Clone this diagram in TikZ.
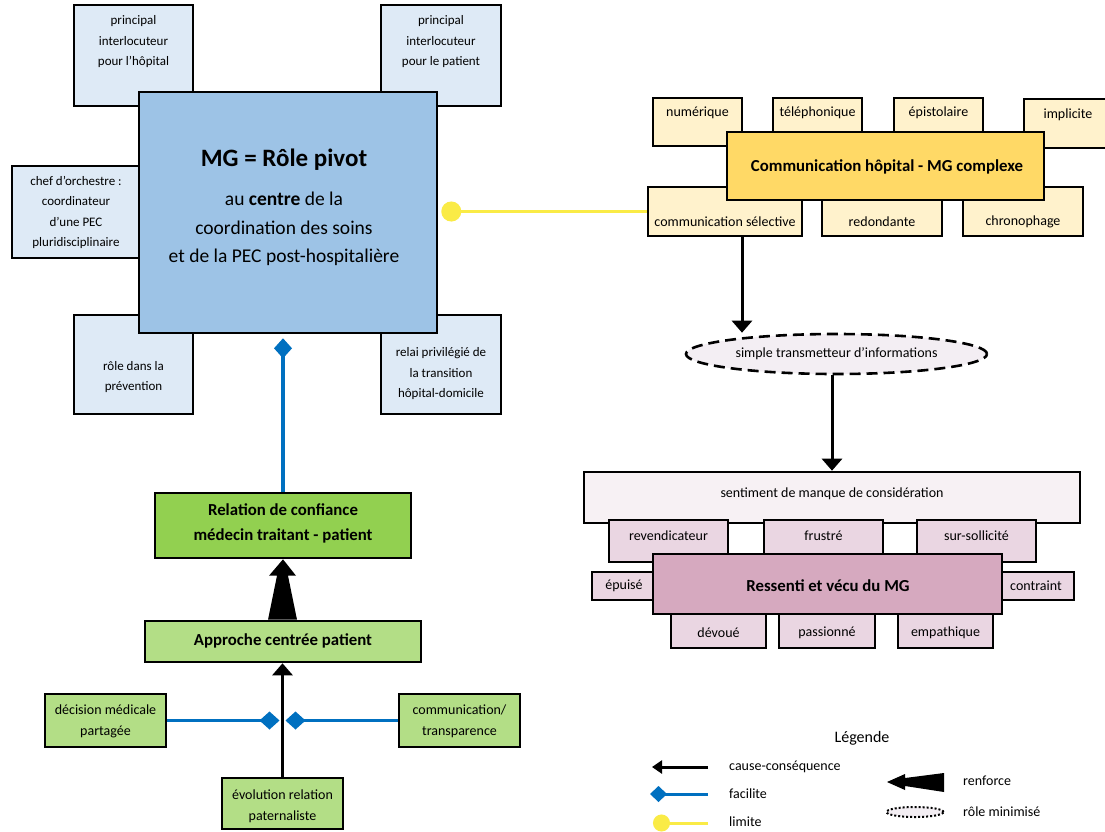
\documentclass[tikz,border=0pt]{standalone}
\usepackage{fontspec}
\setmainfont{Carlito}
\usetikzlibrary{arrows.meta,shapes.geometric,calc}

\definecolor{roleLight}{RGB}{222,234,246}
\definecolor{roleMain}{RGB}{157,195,230}
\definecolor{comLight}{RGB}{255,242,204}
\definecolor{comMain}{RGB}{255,217,102}
\definecolor{feelLight}{RGB}{234,214,226}
\definecolor{feelMain}{RGB}{214,169,191}
\definecolor{feelPale}{RGB}{247,241,244}
\definecolor{trustMain}{RGB}{146,208,80}
\definecolor{trustLight}{RGB}{179,222,134}
\definecolor{faciliteBlue}{RGB}{0,112,192}
\definecolor{limiteYellow}{RGB}{250,235,70}
\definecolor{ellFill}{RGB}{243,238,243}

% rectangle node from its corners: name, x1, y1, x2, y2, style
\newcommand{\rbox}[6]{%
  \node[frame,#6,minimum width={#4-#2},minimum height={#5-#3}] (#1)
    at ({(#2+#4)/2},{(#3+#5)/2}) {};}

\tikzset{
  frame/.style={draw=black, line width=2.6pt, rectangle, inner sep=0pt},
  txt/.style={align=center, inner sep=0pt, font=\fontsize{13}{20.5}\selectfont},
  stxt/.style={align=center, inner sep=0pt, font=\fontsize{14}{21}\selectfont},
  lead/.style={align=center, inner sep=0pt, font=\fontsize{16.8}{25}\selectfont\bfseries},
  legtxt/.style={anchor=west, inner sep=0pt, font=\fontsize{14}{16}\selectfont},
  cause/.style={draw=black, line width=3pt, -{Triangle[width=20pt,length=12pt]}},
  facilite/.style={draw=faciliteBlue, line width=3.5pt, -{Diamond[length=20pt,width=18pt]}},
  limite/.style={draw=limiteYellow, line width=3.5pt, -{Circle[length=20pt]}},
}

\begin{document}
\begin{tikzpicture}[x=1pt,y=-1pt]
\useasboundingbox (0,0) rectangle (1105,831);
\fill[white] (0,0) rectangle (1105,831);

% ---- role of the GP ----
\rbox{hopBox}{74}{5}{193}{106}{fill=roleLight}
\rbox{patBox}{381}{5}{501}{106}{fill=roleLight}
\rbox{chefBox}{12}{166}{145}{258}{fill=roleLight}
\rbox{prevBox}{74}{315}{193}{414}{fill=roleLight}
\rbox{relaiBox}{381}{315}{501}{414}{fill=roleLight}
\rbox{mainBox}{139}{92}{437}{333}{fill=roleMain}

\node[txt] (hopT) at (133.5,42) {principal\\interlocuteur\\pour l’hôpital};
\node[txt] (patT) at (441,42) {principal\\interlocuteur\\pour le patient};
\node[txt] (chefT) at (76,212.5) {chef d’orchestre :\\coordinateur\\d’une PEC\\pluridisciplinaire};
\node[txt] (prevT) at (133.5,377) {rôle dans la\\prévention};
\node[txt] (relaiT) at (441,374) {relai privilégié de\\la transition\\hôpital-domicile};
\node[inner sep=0pt, font=\fontsize{25}{28}\selectfont\bfseries] (mainTitle) at (284,160) {MG = Rôle pivot};
\node[align=center, inner sep=0pt, font=\fontsize{19.5}{28.5}\selectfont] (mainT) at (284,229)
  {au \textbf{centre} de la\\coordination des soins\\et de la PEC post-hospitalière};

% ---- hospital / GP communication ----
\rbox{numBox}{653}{98}{742}{146}{fill=comLight}
\rbox{telBox}{773}{98}{862}{140}{fill=comLight}
\rbox{episBox}{894}{98}{983}{140}{fill=comLight}
\rbox{implBox}{1024}{99}{1115}{148}{fill=comLight}
\rbox{cselBox}{648}{187}{802}{236}{fill=comLight}
\rbox{redBox}{822}{187}{942}{236}{fill=comLight}
\rbox{chronoBox}{963}{187}{1083}{236}{fill=comLight}
\rbox{comMain}{727}{132}{1044}{200}{fill=comMain}

\node[stxt] (numT) at (697.5,113) {numérique};
\node[stxt] (telT) at (817.5,113) {téléphonique};
\node[stxt] (episT) at (938.5,113) {épistolaire};
\node[stxt] (implT) at (1068,115) {implicite};
\node[lead] (comT) at (887,167) {Communication hôpital - MG complexe};
\node[stxt] (cselT) at (725,222) {communication sélective};
\node[stxt] (redT) at (882,222) {redondante};
\node[stxt] (chronoT) at (1023,222) {chronophage};

\node[ellipse, draw=black, line width=2.6pt, dash pattern=on 11pt off 6pt, fill=ellFill,
  minimum width=301, minimum height=40, inner sep=0pt,
  font=\fontsize{14}{16}\selectfont] (ell) at (836.5,354) {simple transmetteur d’informations};

% ---- how the GP feels ----
\rbox{sentBox}{584}{472}{1080}{523}{fill=feelPale}
\rbox{revBox}{609}{520}{728}{562}{fill=feelLight}
\rbox{frusBox}{764}{520}{883}{562}{fill=feelLight}
\rbox{surBox}{917}{520}{1036}{562}{fill=feelLight}
\rbox{epuiBox}{592}{572}{660}{600}{fill=feelLight}
\rbox{contBox}{995}{572}{1074}{600}{fill=feelLight}
\rbox{devBox}{671}{605}{766}{648}{fill=feelLight}
\rbox{pasBox}{779}{605}{875}{648}{fill=feelLight}
\rbox{empBox}{898}{605}{993}{648}{fill=feelLight}
\rbox{feelBox}{653}{554}{1002}{614}{fill=feelMain}

\node[stxt] (sentT) at (832,494) {sentiment de manque de considération};
\node[stxt] (revT) at (668.5,536) {revendicateur};
\node[stxt] (frusT) at (823.5,536) {frustré};
\node[stxt] (surT) at (976.5,536) {sur-sollicité};
\node[stxt] (epuiT) at (624,586) {épuisé};
\node[stxt] (contT) at (1036,586) {contraint};
\node[lead] (feelT) at (828,586) {Ressenti et vécu du MG};
\node[stxt] (devT) at (718.5,633) {dévoué};
\node[stxt] (pasT) at (827,633) {passionné};
\node[stxt] (empT) at (945.5,633) {empathique};

% ---- trust relationship ----
\rbox{relBox}{155}{493}{411}{558}{fill=trustMain}
\rbox{appBox}{145}{621}{421}{662}{fill=trustLight}
\rbox{decBox}{45}{694}{166}{747}{fill=trustLight}
\rbox{comtBox}{399}{694}{520}{747}{fill=trustLight}
\rbox{evoBox}{222}{778}{343}{829}{fill=trustLight}

\node[lead] (relT) at (283,523.5) {Relation de confiance\\médecin traitant - patient};
\node[lead] (appT) at (283,641) {Approche centrée patient};
\node[stxt] (decT) at (105.5,721) {décision médicale\\partagée};
\node[stxt] (comtT) at (459.5,721) {communication/\\transparence};
\node[stxt] (evoT) at (282.5,806) {évolution relation\\paternaliste};

% ---- connectors ----
\draw[limite, shorten >=3pt] (cselBox.west) -- (mainBox.east |- cselBox.west);
\draw[facilite, shorten >=4pt] (relBox.north) -- (relBox.north |- mainBox.south);
\draw[cause] (evoBox.north) -- (evoBox.north |- appBox.south);
\coordinate (join) at (evoBox.north |- decBox.east);
\draw[facilite, shorten >=3pt] (decBox.east) -- (join);
\draw[facilite, shorten >=3pt] (comtBox.west) -- (join);
\fill[black] ($(appBox.north)+(-15,0)$) -- ($(appBox.north)+(14,0)$)
  -- ($(appBox.north)+(5,-44)$) -- ($(appBox.north)+(13,-44)$) -- (relBox.south)
  -- ($(appBox.north)+(-14,-44)$) -- ($(appBox.north)+(-6,-44)$) -- cycle;
\coordinate (cselOut) at ([xshift=17pt]cselBox.south);
\draw[cause] (cselOut) -- (cselOut |- ell.north);
\draw[cause] (sentBox.north |- ell.south) -- (sentBox.north);

% ---- legend ----
\node[inner sep=0pt, font=\fontsize{16}{18}\selectfont] (legT) at (862,738) {Légende};
\coordinate (lc1) at (708,767); \coordinate (lc2) at (652,767);
\draw[draw=black, line width=3pt, -{Triangle[width=13pt,length=10pt]}] (lc1) -- (lc2);
\coordinate (lf1) at (708,794); \coordinate (lf2) at (650,794);
\draw[draw=faciliteBlue, line width=3pt, -{Diamond[length=17pt,width=16pt]}] (lf1) -- (lf2);
\coordinate (ll1) at (708,823); \coordinate (ll2) at (653,823);
\draw[draw=limiteYellow, line width=3pt, -{Circle[length=17pt]}] (ll1) -- (ll2);
\node[legtxt] (lcT) at (729,767) {cause-conséquence};
\node[legtxt] (lfT) at (729,794) {facilite};
\node[legtxt] (llT) at (729,822) {limite};
\fill[black] (887,782) -- (905,774) -- (905,778) -- (944,773) -- (944,792)
  -- (905,786) -- (905,790) -- cycle;
\node[legtxt] (lrT) at (963,781) {renforce};
\node[ellipse, draw=black, line width=2pt, dotted, fill=ellFill, minimum width=57,
  minimum height=10, inner sep=0pt] (lmE) at (915,812) {};
\node[legtxt] (lmT) at (963,812) {rôle minimisé};
\end{tikzpicture}
\end{document}
